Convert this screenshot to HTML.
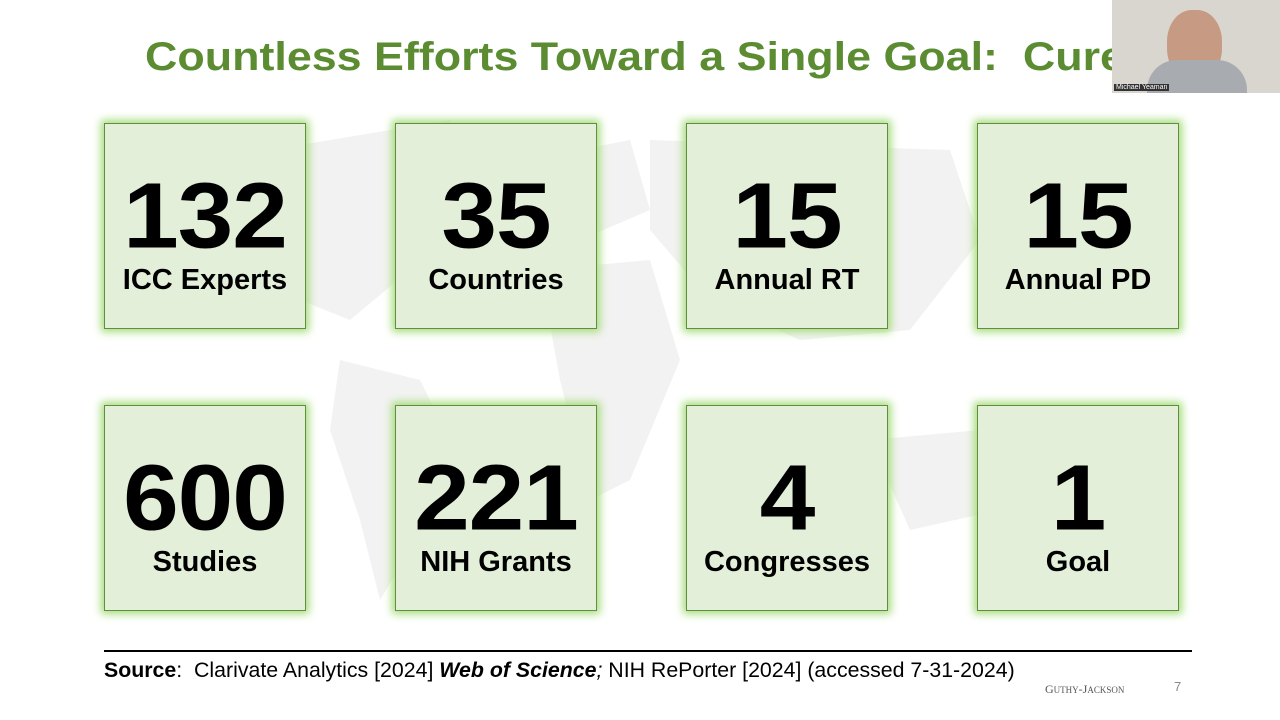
<!DOCTYPE html>
<html><head><meta charset="utf-8"><style>
body{margin:0;width:1280px;height:720px;overflow:hidden;background:#fff;font-family:"Liberation Sans",sans-serif;position:relative}
.title{position:absolute;left:145px;top:35px;font-size:40px;font-weight:bold;color:#5b8c32;white-space:nowrap;transform:scaleX(1.12);transform-origin:0 0}
.map{position:absolute;left:150px;top:100px;width:950px;height:540px}
.box{position:absolute;width:200px;height:204px;background:#e3efd9;border:1.5px solid #5f8f3e;box-shadow:0 0 8px 3px #a6dc7c;text-align:center;color:#000}
.n{font-size:100px;font-weight:bold;line-height:1;margin-top:42px;letter-spacing:-1px;transform:scaleY(0.93)}
.l{font-size:29px;font-weight:bold;margin-top:-2px;white-space:nowrap}
.cam{position:absolute;left:1112px;top:0;width:168px;height:93px;background:#d9d6d0;overflow:hidden}
</style></head><body>
<svg class="map" viewBox="0 0 950 540">
<g fill="#f2f2f2">
<path d="M60 60 L300 20 L330 90 L260 170 L200 220 L150 200 L90 150 Z"/>
<path d="M190 260 L270 280 L300 340 L260 450 L230 500 L210 420 L180 330 Z"/>
<path d="M380 60 L480 40 L500 110 L430 140 L380 120 Z"/>
<path d="M390 170 L500 160 L530 260 L480 380 L440 400 L410 280 Z"/>
<path d="M500 40 L800 50 L830 140 L760 230 L650 240 L560 200 L500 130 Z"/>
<path d="M720 340 L830 330 L850 410 L760 430 Z"/>
</g></svg>
<div class="title">Countless Efforts Toward a Single Goal:&nbsp; Cure</div>
<div class="cam"><div style="position:absolute;left:55px;top:10px;width:55px;height:70px;border-radius:45%;background:#c79a84"></div><div style="position:absolute;left:35px;top:60px;width:100px;height:40px;background:#a8acb0;border-radius:30px 30px 0 0"></div><div style="position:absolute;left:2px;bottom:2px;font-size:7px;color:#fff;background:#333;padding:0 2px">Michael Yeaman</div></div>
<div class="box" style="left:104px;top:123px"><div class="n">132</div><div class="l">ICC Experts</div></div>
<div class="box" style="left:395px;top:123px"><div class="n">35</div><div class="l">Countries</div></div>
<div class="box" style="left:686px;top:123px"><div class="n">15</div><div class="l">Annual RT</div></div>
<div class="box" style="left:977px;top:123px"><div class="n">15</div><div class="l">Annual PD</div></div>
<div class="box" style="left:104px;top:405px"><div class="n">600</div><div class="l">Studies</div></div>
<div class="box" style="left:395px;top:405px"><div class="n">221</div><div class="l">NIH Grants</div></div>
<div class="box" style="left:686px;top:405px"><div class="n">4</div><div class="l">Congresses</div></div>
<div class="box" style="left:977px;top:405px"><div class="n">1</div><div class="l">Goal</div></div>
<div style="position:absolute;left:104px;top:650px;width:1088px;height:2px;background:#000"></div>
<div style="position:absolute;left:104px;top:659px;font-size:21px;white-space:nowrap;transform:scaleX(1.015);transform-origin:0 0"><b>Source</b>:&nbsp; Clarivate Analytics [2024] <b><i>Web of Science</i></b><i>;</i> NIH RePorter [2024] (accessed 7-31-2024)</div>
<div style="position:absolute;left:1045px;top:682px;font-size:12px;color:#555;font-family:'Liberation Serif',serif">G<span style="font-size:9px">UTHY</span>-J<span style="font-size:9px">ACKSON</span></div>
<div style="position:absolute;left:1174px;top:679px;font-size:13px;color:#888">7</div>
</body></html>
